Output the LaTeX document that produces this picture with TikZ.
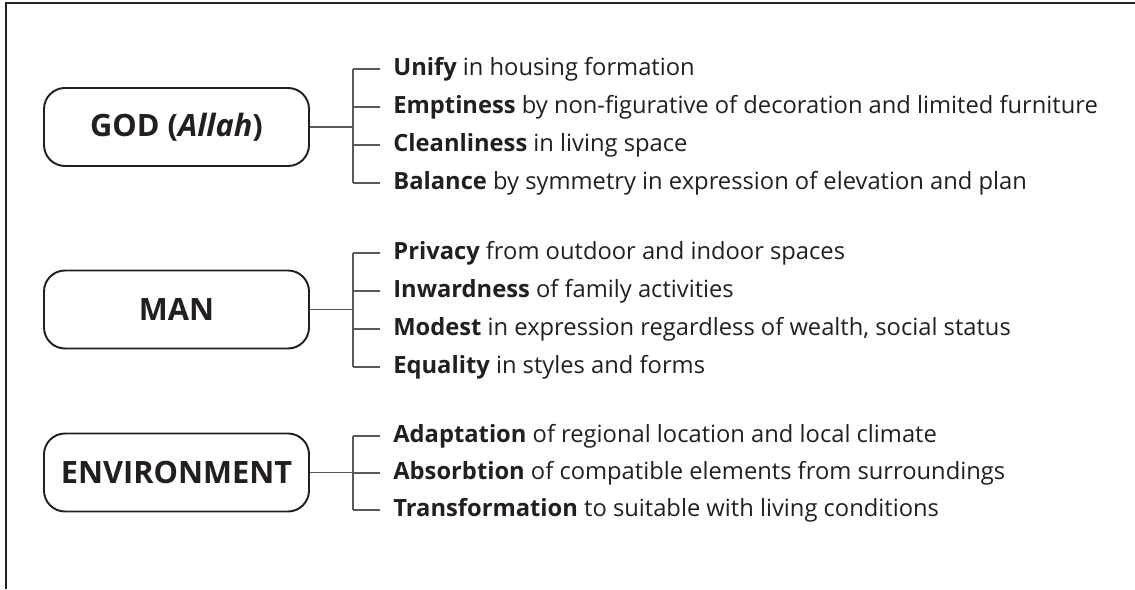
\documentclass[tikz,border=0pt]{standalone}
\usepackage{fontspec}
\setmainfont{Open Sans}
\usetikzlibrary{calc,positioning}
\definecolor{tenetink}{HTML}{231F20}
\definecolor{tenetline}{HTML}{58595B}
\tikzset{
  tenet box/.style={
    rounded corners=0.42cm,
    draw=tenetink,
    line width=1.1pt,
    fill=white,
    minimum width=5.3cm,
    minimum height=1.56cm,
    align=center,
    text=tenetink,
    font=\fontsize{17.5}{21}\selectfont\bfseries,
  },
  tenet item/.style={
    anchor=west,
    inner xsep=0.26cm,
    inner ysep=0pt,
    text height=0.7em,
    text depth=0pt,
    text=tenetink,
    font=\fontsize{13.5}{15}\selectfont,
  },
  tenet link/.style={draw=tenetline, line width=0.8pt},
  tenet frame/.style={draw=tenetink, line width=1.3pt},
}

\begin{document}
\begin{tikzpicture}

  \useasboundingbox (0,0) rectangle (22.7cm,11.78cm);

  % --- Page frame (only top and left edges show) ---
  \draw[tenet frame] (0.12cm,0cm) -- (0.12cm,11.72cm) -- (22.7cm,11.72cm);

  % --- GOD (Allah) ---
  \node[tenet box] (god) at (3.53cm, 9.24cm) {GOD (\textit{Allah})};
  \coordinate (godbus) at (7.06cm, 9.26cm);
  \node[tenet item] (god1) at (7.6cm, 10.40cm) {\textbf{Unify} in housing formation};
  \node[tenet item] (god2) at (7.6cm,  9.64cm) {\textbf{Emptiness} by non-figurative of decoration and limited furniture};
  \node[tenet item] (god3) at (7.6cm,  8.88cm) {\textbf{Cleanliness} in living space};
  \node[tenet item] (god4) at (7.6cm,  8.12cm) {\textbf{Balance} by symmetry in expression of elevation and plan};

  \draw[tenet link] (god.east) -- (god.east -| godbus);
  \draw[tenet link] (godbus |- god1.west) -- (godbus |- god4.west);
  \draw[tenet link] (godbus |- god1.west) -- (god1.west);
  \draw[tenet link] (godbus |- god2.west) -- (god2.west);
  \draw[tenet link] (godbus |- god3.west) -- (god3.west);
  \draw[tenet link] (godbus |- god4.west) -- (god4.west);

  % --- MAN ---
  \node[tenet box] (man) at (3.53cm, 5.59cm) {MAN};
  \coordinate (manbus) at (7.06cm, 5.59cm);
  \node[tenet item] (man1) at (7.6cm, 6.72cm) {\textbf{Privacy} from outdoor and indoor spaces};
  \node[tenet item] (man2) at (7.6cm, 5.96cm) {\textbf{Inwardness} of family activities};
  \node[tenet item] (man3) at (7.6cm, 5.20cm) {\textbf{Modest} in expression regardless of wealth, social status};
  \node[tenet item] (man4) at (7.6cm, 4.44cm) {\textbf{Equality} in styles and forms};

  \draw[tenet link] (man.east) -- (man.east -| manbus);
  \draw[tenet link] (manbus |- man1.west) -- (manbus |- man4.west);
  \draw[tenet link] (manbus |- man1.west) -- (man1.west);
  \draw[tenet link] (manbus |- man2.west) -- (man2.west);
  \draw[tenet link] (manbus |- man3.west) -- (man3.west);
  \draw[tenet link] (manbus |- man4.west) -- (man4.west);

  % --- ENVIRONMENT ---
  \node[tenet box] (env) at (3.53cm, 2.33cm) {ENVIRONMENT};
  \coordinate (envbus) at (7.06cm, 2.33cm);
  \node[tenet item] (env1) at (7.6cm, 3.06cm) {\textbf{Adaptation} of regional location and local climate};
  \node[tenet item] (env2) at (7.6cm, 2.32cm) {\textbf{Absorbtion} of compatible elements from surroundings};
  \node[tenet item] (env3) at (7.6cm, 1.58cm) {\textbf{Transformation} to suitable with living conditions};

  \draw[tenet link] (env.east) -- (env.east -| envbus);
  \draw[tenet link] (envbus |- env1.west) -- (envbus |- env3.west);
  \draw[tenet link] (envbus |- env1.west) -- (env1.west);
  \draw[tenet link] (envbus |- env2.west) -- (env2.west);
  \draw[tenet link] (envbus |- env3.west) -- (env3.west);

\end{tikzpicture}
\end{document}
